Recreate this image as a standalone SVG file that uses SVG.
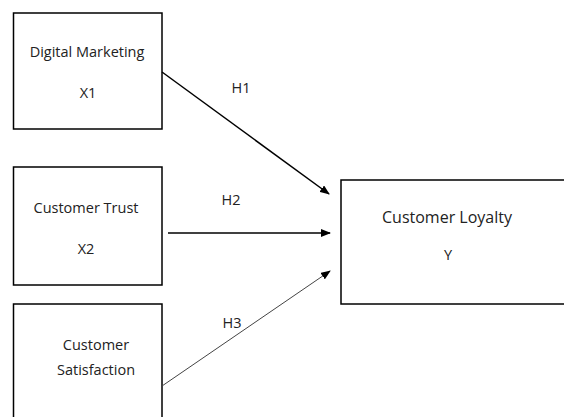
<svg xmlns="http://www.w3.org/2000/svg" width="564" height="417" viewBox="0 0 564 417">
<defs>
<style>
.box{fill:#fff;stroke:#000;stroke-width:1.5}
.t{font-family:"Open Sans","Liberation Sans",Arial,sans-serif;font-size:14.5px;fill:#222;text-anchor:middle}
.big{font-size:16px}
.c{stroke:#000;stroke-width:1.5;fill:none}
.thin{stroke:#444;stroke-width:1;fill:none}
</style>
<marker id="ah" markerWidth="10" markerHeight="8" refX="9" refY="4" orient="auto" markerUnits="userSpaceOnUse">
<path d="M0,0 L10,4 L0,8 Z" fill="#000"/>
</marker>
</defs>
<rect width="564" height="417" fill="#fff"/>
<g id="x1">
<rect class="box" x="13.5" y="13" width="148.5" height="116"/>
<text class="t" x="87" y="57">Digital Marketing</text>
<text class="t" x="88" y="98">X1</text>
</g>
<g id="x2">
<rect class="box" x="13.5" y="167" width="148.5" height="118"/>
<text class="t" x="86" y="213">Customer Trust</text>
<text class="t" x="86" y="254">X2</text>
</g>
<g id="x3">
<rect class="box" x="13.5" y="304" width="148.5" height="120"/>
<text class="t" x="96" y="350">Customer</text>
<text class="t" x="96" y="375">Satisfaction</text>
</g>
<g id="y">
<rect class="box" x="341" y="180" width="230" height="124"/>
<text class="t big" x="447" y="223">Customer Loyalty</text>
<text class="t" x="448" y="260">Y</text>
</g>
<g id="connectors">
<line class="c" x1="162" y1="72" x2="329" y2="194" marker-end="url(#ah)"/>
<line class="c" x1="168" y1="233" x2="330" y2="233" marker-end="url(#ah)"/>
<line class="thin" x1="162" y1="386" x2="330" y2="271" marker-end="url(#ah)"/>
<text class="t" x="241" y="93">H1</text>
<text class="t" x="231" y="205">H2</text>
<text class="t" x="232" y="328">H3</text>
</g>
</svg>
